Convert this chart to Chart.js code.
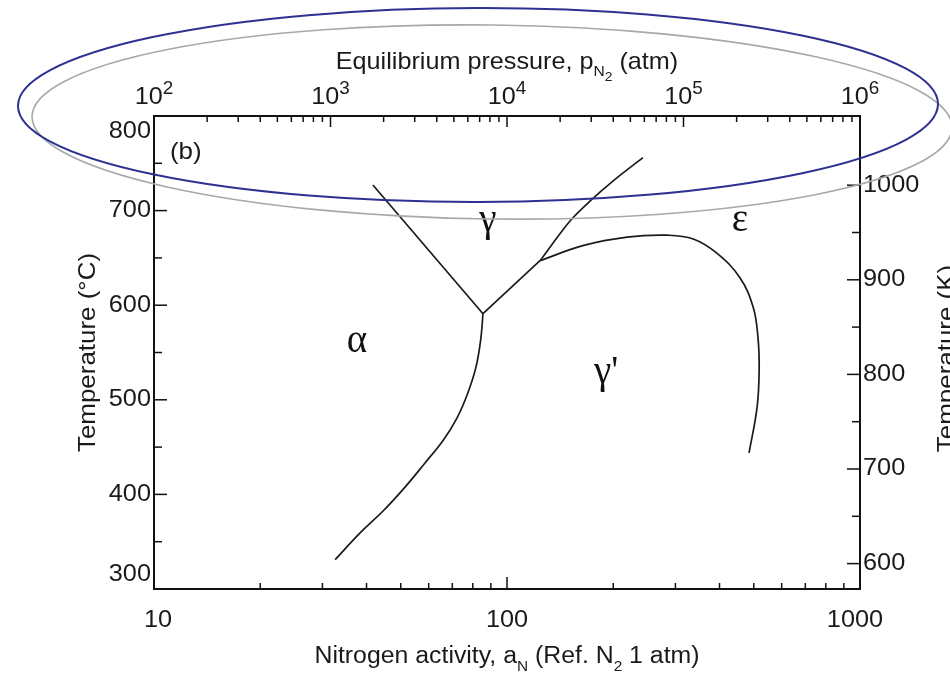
<!DOCTYPE html>
<html lang="en">
<head>
<meta charset="UTF-8">
<script src="https://cdn.jsdelivr.net/npm/chart.js"></script>
<title>Fe-N phase diagram</title>
<style>
    body { margin: 0; background: #fff; }
    #wrap { width: 950px; height: 673px; }
</style>
</head>
<body>
<div id="wrap"><canvas id="chart" width="950" height="673"></canvas></div>
<script>
    // phase boundaries: nitrogen activity a_N vs temperature (°C)
    const alphaGpAct  = [32.6, 38.3, 44.7, 51.5, 58.5, 65.9, 72.2, 77.4, 81.6, 84.2, 85.5];
    const alphaGpTemp = [331, 359, 383, 408, 433, 457, 481, 507, 534, 563, 591];

    const alphaGammaAct  = [85.5, 41.7];
    const alphaGammaTemp = [591, 727];

    const gammaGpAct  = [85.5, 124];
    const gammaGpTemp = [591, 647];

    const gammaEpsAct  = [124, 150.8, 171.8, 202.3, 242.8];
    const gammaEpsTemp = [647, 689, 710, 733, 756];

    const gpEpsAct  = [124, 164, 219, 284, 337, 393, 457, 498, 514, 518, 511, 485];
    const gpEpsTemp = [647, 663, 672, 674, 670, 655, 629, 598, 566, 531, 492, 444];

    // phase field labels
    const phaseNames = ['α', 'γ', "γ'", 'ε'];
    const phaseAct   = [37.6, 88.3, 191, 457];
    const phaseTemp  = [561, 689, 529, 689];

    // axes
    const actTicks   = [10, 100, 1000];
    const presExp    = [2, 3, 4, 5, 6];
    const tempCTicks = [300, 400, 500, 600, 700, 800];
    const tempKTicks = [600, 700, 800, 900, 1000];

    const toPts = (xs, ys) => xs.map((x, i) => ({ x: x, y: ys[i] }));

    function curve(xs, ys, tension) {
        return {
            data: toPts(xs, ys),
            showLine: true,
            borderColor: '#1a1a1a',
            borderWidth: 1.7,
            pointRadius: 0,
            tension: tension
        };
    }

    function minorLog(lo, hi) {
        const out = [];
        for (let d = lo; d < hi; d *= 10) {
            for (let m = 2; m <= 9; m++) out.push(m * d);
        }
        return out;
    }

    const SANS = '"Liberation Sans", Arial, sans-serif';
    const SUB = { '': [1, 0], sub: [0.62, 0.42], subsub: [0.55, 0.62], sup: [0.75, -0.34] };

    // text with sub/superscripts, stretched a bit sideways like the scan
    function drawRich(ctx, parts, x, y, size, opt) {
        const sx = opt.sx || 1, align = opt.align || 'center', rot = opt.rot || 0;
        ctx.save();
        ctx.translate(x, y);
        ctx.rotate(rot);
        ctx.scale(sx, 1);
        ctx.textBaseline = 'middle';
        ctx.textAlign = 'left';
        ctx.fillStyle = '#1a1a1a';
        let w = 0;
        parts.forEach(p => {
            ctx.font = (size * SUB[p[1] || ''][0]) + 'px ' + SANS;
            w += ctx.measureText(p[0]).width;
        });
        let cx = align === 'center' ? -w / 2 : align === 'right' ? -w : 0;
        parts.forEach(p => {
            const k = SUB[p[1] || ''];
            ctx.font = (size * k[0]) + 'px ' + SANS;
            ctx.fillText(p[0], cx, k[1] * size);
            cx += ctx.measureText(p[0]).width;
        });
        ctx.restore();
    }

    const decor = {
        id: 'decor',
        afterDatasetsDraw(chart) {
            const ctx = chart.ctx;
            const { left, right, top, bottom } = chart.chartArea;
            const sx = chart.scales.x, sx2 = chart.scales.x2, sy = chart.scales.y, sy1 = chart.scales.y1;

            ctx.save();
            ctx.strokeStyle = '#111';
            ctx.lineWidth = 2;
            ctx.strokeRect(left, top, right - left, bottom - top);

            ctx.lineWidth = 1.5;
            const tick = (x1, y1, x2, y2) => {
                ctx.beginPath(); ctx.moveTo(x1, y1); ctx.lineTo(x2, y2); ctx.stroke();
            };
            // bottom
            actTicks.forEach(v => { const p = sx.getPixelForValue(v); tick(p, bottom, p, bottom - 12); });
            minorLog(10, 1000).forEach(v => { const p = sx.getPixelForValue(v); tick(p, bottom, p, bottom - 6); });
            // top
            const presTicks = presExp.map(e => Math.pow(10, e));
            presTicks.forEach(v => { const p = sx2.getPixelForValue(v); tick(p, top, p, top + 11); });
            minorLog(100, 1e6).forEach(v => { const p = sx2.getPixelForValue(v); tick(p, top, p, top + 6); });
            // left
            tempCTicks.forEach(v => { const p = sy.getPixelForValue(v); tick(left, p, left + 13, p); });
            tempCTicks.slice(0, -1).forEach(v => { const p = sy.getPixelForValue(v + 50); tick(left, p, left + 8, p); });
            // right
            tempKTicks.forEach(v => { const p = sy1.getPixelForValue(v); tick(right, p, right - 13, p); });
            tempKTicks.slice(0, -1).forEach(v => { const p = sy1.getPixelForValue(v + 50); tick(right, p, right - 8, p); });
            ctx.restore();

            // tick labels
            actTicks.forEach(v => {
                const p = Math.min(Math.max(sx.getPixelForValue(v), left + 4), right - 5);
                drawRich(ctx, [[String(v)]], p, 621, 23, { sx: 1.1 });
            });
            presExp.forEach(e => {
                drawRich(ctx, [['10'], [String(e), 'sup']], sx2.getPixelForValue(Math.pow(10, e)), 97, 24, { sx: 1.05 });
            });
            tempCTicks.forEach(v => {
                const p = Math.min(Math.max(sy.getPixelForValue(v), top + 16), bottom - 14);
                drawRich(ctx, [[String(v)]], left - 3, p, 23, { sx: 1.1, align: 'right' });
            });
            tempKTicks.forEach(v => {
                drawRich(ctx, [[String(v)]], right + 3, sy1.getPixelForValue(v), 23, { sx: 1.1, align: 'left' });
            });

            // axis titles
            const cx = (left + right) / 2, cy = (top + bottom) / 2;
            drawRich(ctx, [['Equilibrium pressure, p'], ['N', 'sub'], ['2', 'subsub'], [' (atm)']], cx, 62, 24, { sx: 1.05 });
            drawRich(ctx, [['Nitrogen activity, a'], ['N', 'sub'], [' (Ref. N'], ['2', 'sub'], [' 1 atm)']], cx, 657, 23, { sx: 1.08 });
            drawRich(ctx, [['Temperature (°C)']], 88, cy, 24, { sx: 1.08, rot: -Math.PI / 2 });
            drawRich(ctx, [['Temperature (K)']], 947, cy + 6, 24, { sx: 1.08, rot: -Math.PI / 2 });

            // panel tag and phase names
            drawRich(ctx, [['(b)']], sx.getPixelForValue(12.3), sy.getPixelForValue(762), 24, { sx: 1.08 });
            ctx.save();
            ctx.fillStyle = '#111';
            ctx.font = '39px "Liberation Serif", "DejaVu Serif", serif';
            ctx.textAlign = 'center';
            ctx.textBaseline = 'middle';
            phaseNames.forEach((n, i) => {
                ctx.fillText(n, sx.getPixelForValue(phaseAct[i]), sy.getPixelForValue(phaseTemp[i]));
            });
            ctx.restore();

            // highlight ellipses drawn over the figure
            ctx.save();
            ctx.lineWidth = 1.6;
            ctx.strokeStyle = '#a8a8a8';
            ctx.beginPath();
            ctx.ellipse(492, 122, 460, 97, 0.012, 0, Math.PI * 2);
            ctx.stroke();
            ctx.lineWidth = 2;
            ctx.strokeStyle = '#2e3192';
            ctx.beginPath();
            ctx.ellipse(478, 105, 460, 97, -0.002, 0, Math.PI * 2);
            ctx.stroke();
            ctx.restore();
        }
    };

    const hidden = { ticks: { display: false }, grid: { display: false }, border: { display: false } };

    new Chart(document.getElementById('chart'), {
        type: 'scatter',
        data: {
            datasets: [
                curve(alphaGpAct, alphaGpTemp, 0.4),
                curve(alphaGammaAct, alphaGammaTemp, 0),
                curve(gammaGpAct, gammaGpTemp, 0),
                curve(gammaEpsAct, gammaEpsTemp, 0.3),
                curve(gpEpsAct, gpEpsTemp, 0.4)
            ]
        },
        options: {
            responsive: false,
            animation: false,
            plugins: { legend: { display: false }, tooltip: { enabled: false } },
            scales: {
                x: Object.assign({ type: 'logarithmic', position: 'bottom', min: 10, max: 1000,
                    afterFit: s => { s.height = 84; } }, hidden),
                x2: Object.assign({ type: 'logarithmic', position: 'top', min: 100, max: 1e6,
                    afterFit: s => { s.height = 116; } }, hidden),
                y: Object.assign({ type: 'linear', position: 'left', min: 300, max: 800,
                    afterFit: s => { s.width = 154; } }, hidden),
                y1: Object.assign({ type: 'linear', position: 'right', min: 573.15, max: 1073.15,
                    afterFit: s => { s.width = 90; } }, hidden)
            }
        },
        plugins: [decor]
    });
</script>
</body>
</html>
